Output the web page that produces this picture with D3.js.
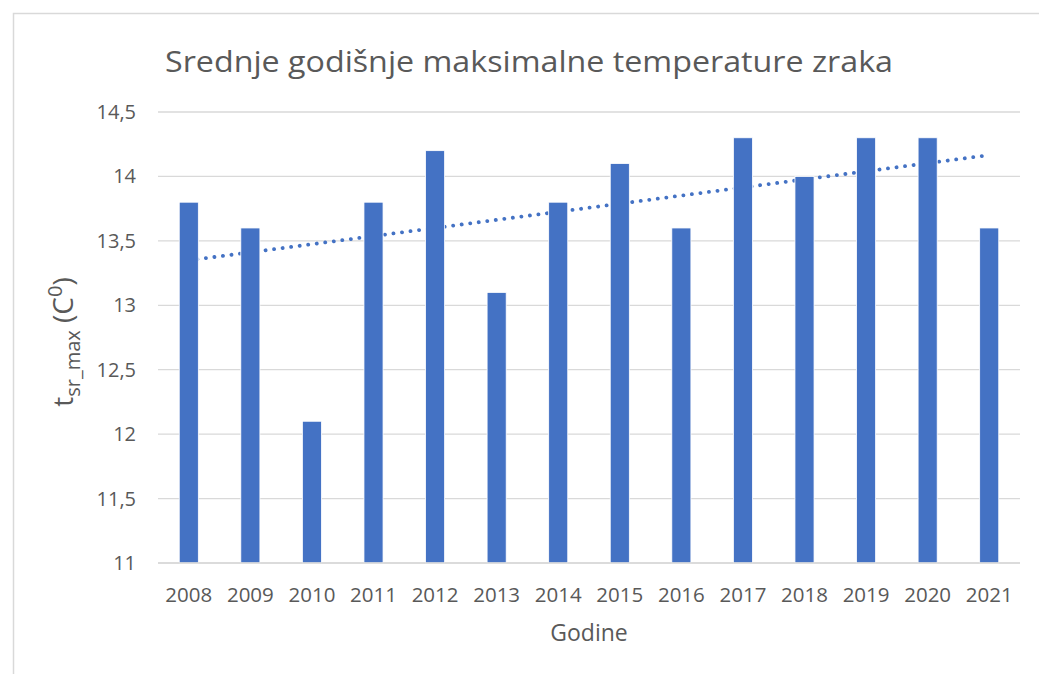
<!DOCTYPE html>
<html>
<head>
<meta charset="utf-8">
<script src="https://cdn.jsdelivr.net/npm/d3@7"></script>
<style>
  body { margin: 0; background: #fff; }
  text { font-family: "Open Sans", "Noto Sans", sans-serif; fill: #595959; }
</style>
</head>
<body>
<svg id="chart" width="1039" height="674"></svg>
<script>
// chart data
const years = ['2008', '2009', '2010', '2011', '2012', '2013', '2014',
  '2015', '2016', '2017', '2018', '2019', '2020', '2021'];
const tMax = [13.8, 13.6, 12.1, 13.8, 14.2, 13.1, 13.8, 14.1, 13.6, 14.3, 14.0, 14.3, 14.3, 13.6];
const yTicks = [11, 11.5, 12, 12.5, 13, 13.5, 14, 14.5];

const titleText = 'Srednje godišnje maksimalne temperature zraka';
const xTitle = 'Godine';

const svg = d3.select('#chart');
const width = 1039, height = 674;

// outer chart border (runs off the right/bottom edges)
svg.append('rect')
  .attr('x', 13.5).attr('y', 13.5)
  .attr('width', width).attr('height', height)
  .attr('fill', 'none')
  .attr('stroke', '#d9d9d9')
  .attr('stroke-width', 1.5);

const margin = {left: 158, right: 1020, top: 112, bottom: 563};

const x = d3.scaleBand()
  .domain(years)
  .range([margin.left, margin.right])
  .paddingInner(0.69)
  .paddingOuter(0.345);

const y = d3.scaleLinear()
  .domain([11, 14.5])
  .range([margin.bottom, margin.top]);

// gridlines
svg.append('g')
  .selectAll('line')
  .data(yTicks)
  .join('line')
  .attr('x1', margin.left).attr('x2', margin.right)
  .attr('y1', d => y(d)).attr('y2', d => y(d))
  .attr('stroke', '#d9d9d9')
  .attr('stroke-width', 1.3);

// y tick labels
const fmt = d => String(d).replace('.', ',');
svg.append('g')
  .selectAll('text')
  .data(yTicks)
  .join('text')
  .attr('x', 136)
  .attr('y', d => y(d) + 7)
  .attr('text-anchor', 'end')
  .attr('font-size', 20)
  .text(fmt);

// linear trendline (least squares through the bars)
const xs = tMax.map((d, i) => i);
const mx = d3.mean(xs), my = d3.mean(tMax);
const slope = d3.sum(xs, (v, i) => (v - mx) * (tMax[i] - my)) / d3.sum(xs, v => (v - mx) * (v - mx));
const icpt = my - slope * mx;
const cx = i => x(years[i]) + x.bandwidth() / 2;

svg.append('line')
  .attr('x1', cx(0)).attr('y1', y(icpt))
  .attr('x2', cx(years.length - 1)).attr('y2', y(icpt + slope * (years.length - 1)))
  .attr('stroke', '#4472c4')
  .attr('stroke-width', 3.8)
  .attr('stroke-linecap', 'round')
  .attr('stroke-dasharray', '0.1 8.5');

// bars
svg.append('g')
  .selectAll('rect')
  .data(tMax)
  .join('rect')
  .attr('x', (d, i) => x(years[i]))
  .attr('y', d => y(d))
  .attr('width', x.bandwidth())
  .attr('height', d => y(11) - y(d))
  .attr('fill', '#4472c4')
  .attr('stroke', '#fff')
  .attr('stroke-width', 0.8);

// x axis baseline
svg.append('line')
  .attr('x1', margin.left).attr('x2', margin.right)
  .attr('y1', y(11)).attr('y2', y(11))
  .attr('stroke', '#d9d9d9')
  .attr('stroke-width', 1.5);

// x tick labels
svg.append('g')
  .selectAll('text')
  .data(years)
  .join('text')
  .attr('x', d => x(d) + x.bandwidth() / 2)
  .attr('y', 602)
  .attr('text-anchor', 'middle')
  .attr('font-size', 20.5)
  .text(d => d);

// title
svg.append('text')
  .attr('x', 529)
  .attr('y', 72)
  .attr('text-anchor', 'middle')
  .attr('font-size', 30)
  .attr('textLength', 728)
  .attr('lengthAdjust', 'spacingAndGlyphs')
  .text(titleText);

// x axis title
svg.append('text')
  .attr('x', 589)
  .attr('y', 641)
  .attr('text-anchor', 'middle')
  .attr('font-size', 23)
  .text(xTitle);

// y axis title: t_sr_max (C^0)
const yt = svg.append('text')
  .attr('transform', 'translate(73,' + 342 + ') rotate(-90)')
  .attr('text-anchor', 'middle')
  .attr('font-size', 28);
yt.append('tspan').text('t');
yt.append('tspan').attr('font-size', 20).attr('dy', 7).text('sr_max');
yt.append('tspan').attr('dy', -7).text(' (C');
yt.append('tspan').attr('font-size', 20).attr('dy', -11).text('0');
yt.append('tspan').attr('dy', 11).text(')');
</script>
</body>
</html>
